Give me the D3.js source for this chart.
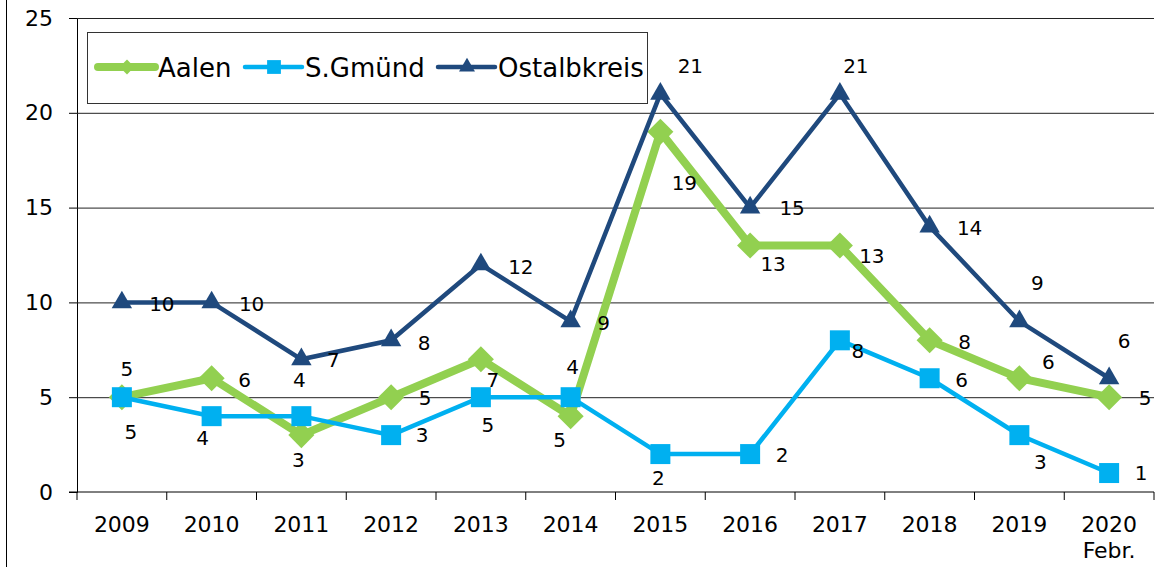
<!DOCTYPE html>
<html>
<head>
<meta charset="utf-8">
<script src="https://cdn.jsdelivr.net/npm/d3@7"></script>
<style>
  html, body { margin: 0; padding: 0; background: #fff; }
  svg { display: block; font-family: "DejaVu Sans", sans-serif; }
</style>
</head>
<body>
<div id="chart"></div>
<script>
// categories and series
const years = ['2009', '2010', '2011', '2012', '2013', '2014', '2015', '2016', '2017', '2018', '2019', '2020\nFebr.'];
const aalen = [5, 6, 3, 5, 7, 4, 19, 13, 13, 8, 6, 5];
const gmuend = [5, 4, 4, 3, 5, 5, 2, 2, 8, 6, 3, 1];
const ostalb = [10, 10, 7, 8, 12, 9, 21, 15, 21, 14, 9, 6];
const yTicks = [0, 5, 10, 15, 20, 25];

// hand placed data labels in the original, offsets in px from the point
const aalenLabelOff = [[5,-28],[33,2],[-3,25],[34,1],[12,21],[2,-49],[24,51],[23,18],[32,10],[35,1],[29,-16],[36,1]];
const gmuendLabelOff = [[9,35],[-9,22],[-2,-36],[31,0],[7,28],[-11,43],[-2,24],[32,1],[18,10],[32,2],[21,27],[32,0]];
const ostalbLabelOff = [[40,1],[40,1],[32,1],[33,2],[40,2],[33,1],[30,-28],[42,0],[16,-28],[40,1],[18,-39],[15,-37]];

const W = 1158, H = 567;
const plotL = 77, plotR = 1154, plotT = 18, plotB = 492;

const series = [
    {name: 'Aalen', values: aalen, off: aalenLabelOff, color: '#92D050', width: 8,
     symbol: d3.symbolSquare, size: 340, rotate: 45, legendSize: 110},
    {name: 'S.Gmünd', values: gmuend, off: gmuendLabelOff, color: '#00B0F0', width: 4.5,
     symbol: d3.symbolSquare, size: 400, rotate: 0, legendSize: 190},
    {name: 'Ostalbkreis', values: ostalb, off: ostalbLabelOff, color: '#1F497D', width: 4.5,
     symbol: d3.symbolTriangle, size: 180, rotate: 0, legendSize: 110},
];

const svg = d3.select('#chart').append('svg')
    .attr('width', W).attr('height', H);

const x = d3.scaleBand().domain(years).range([plotL, plotR]).padding(0);
const y = d3.scaleLinear().domain([0, 25]).range([plotB, plotT]);
const cx = (i) => x(years[i]) + x.bandwidth() / 2;

// frame line on the left
svg.append('line')
    .attr('x1', 6.5).attr('x2', 6.5).attr('y1', 0).attr('y2', H)
    .attr('stroke', '#000').attr('stroke-width', 1);

// gridlines + y axis
const yAxis = d3.axisLeft(y).tickValues(yTicks).tickSize(8).tickPadding(16);
const gy = svg.append('g').attr('transform', `translate(${plotL},0)`).call(yAxis);
gy.select('.domain').attr('stroke', '#000');
gy.selectAll('.tick text').attr('font-size', 22).attr('fill', '#000')
    .attr('font-family', '"DejaVu Sans", sans-serif');
gy.selectAll('.tick line').attr('stroke', '#000');
gy.selectAll('.tick').filter(d => d > 0).append('line')
    .attr('x1', 0).attr('x2', plotR - plotL)
    .attr('stroke', '#222').attr('stroke-width', 1);

// x axis
const gx = svg.append('g').attr('transform', `translate(0,${plotB})`);
gx.append('line').attr('x1', plotL - 8).attr('x2', plotR)
    .attr('stroke', '#000');
gx.selectAll('line.tk')
    .data(years.map(d => x(d)).concat([plotR]))
  .enter().append('line').attr('class', 'tk')
    .attr('x1', d => d).attr('x2', d => d)
    .attr('y1', 0).attr('y2', 8)
    .attr('stroke', '#000');
const xt = gx.selectAll('text.yr')
    .data(years)
  .enter().append('text').attr('class', 'yr')
    .attr('text-anchor', 'middle')
    .attr('font-size', 22)
    .attr('fill', '#000');
xt.each(function(d) {
    const parts = d.split('\n');
    const t = d3.select(this);
    parts.forEach((p, k) => {
        t.append('tspan')
            .attr('x', x(d) + x.bandwidth() / 2)
            .attr('y', k === 0 ? 40 : 66)
            .attr('font-size', 22)
            .text(p);
    });
});

// series
const line = d3.line().x((d, i) => cx(i)).y(d => y(d));

series.forEach(s => {
    const g = svg.append('g').attr('class', 'series');
    g.append('path')
        .attr('d', line(s.values))
        .attr('fill', 'none')
        .attr('stroke', s.color)
        .attr('stroke-width', s.width)
        .attr('stroke-linejoin', 'miter');
    g.selectAll('path.mk')
        .data(s.values)
      .enter().append('path').attr('class', 'mk')
        .attr('d', d3.symbol().type(s.symbol).size(s.size)())
        .attr('transform', (d, i) => `translate(${cx(i)},${y(d)}) rotate(${s.rotate})`)
        .attr('fill', s.color);
});

// data labels
series.forEach(s => {
    svg.append('g').selectAll('text')
        .data(s.values)
      .enter().append('text')
        .attr('x', (d, i) => cx(i) + s.off[i][0])
        .attr('y', (d, i) => y(d) + s.off[i][1])
        .attr('dy', '0.36em')
        .attr('text-anchor', 'middle')
        .attr('font-size', 20)
        .attr('fill', '#000')
        .text(d => d);
});

// legend
const lg = svg.append('g');
lg.append('rect')
    .attr('x', 87.5).attr('y', 32.5).attr('width', 560).attr('height', 71)
    .attr('fill', '#fff').attr('stroke', '#333').attr('stroke-width', 1);
const legendX = [98, 245, 438];
series.forEach((s, k) => {
    const x0 = legendX[k], ly = 67;
    lg.append('line')
        .attr('x1', x0).attr('x2', x0 + 57).attr('y1', ly).attr('y2', ly)
        .attr('stroke', s.color).attr('stroke-width', s.width)
        .attr('stroke-linecap', 'round');
    lg.append('path')
        .attr('d', d3.symbol().type(s.symbol).size(s.legendSize)())
        .attr('transform', `translate(${x0 + 29},${ly}) rotate(${s.rotate})`)
        .attr('fill', s.color);
    lg.append('text')
        .attr('x', x0 + 60).attr('y', 77)
        .attr('font-size', 26)
        .attr('fill', '#000')
        .text(s.name);
});
</script>
</body>
</html>
